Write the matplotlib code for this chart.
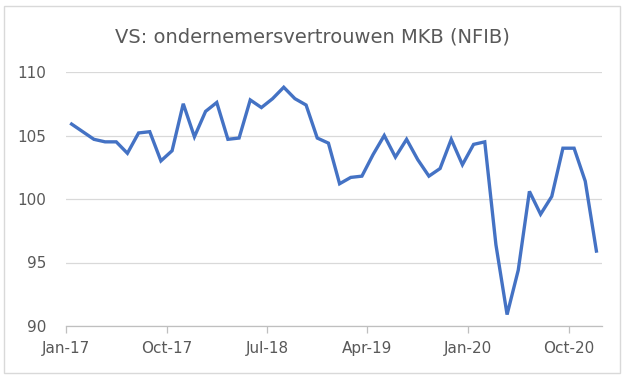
import matplotlib
matplotlib.use("Agg")
import matplotlib.pyplot as plt
from matplotlib.patches import Rectangle

# NFIB small business optimism index, monthly Jan-17 .. Dec-20
values = [
    105.9, 105.3, 104.7, 104.5, 104.5, 103.6, 105.2, 105.3, 103.0, 103.8, 107.5, 104.9,
    106.9, 107.6, 104.7, 104.8, 107.8, 107.2, 107.9, 108.8, 107.9, 107.4, 104.8, 104.4,
    101.2, 101.7, 101.8, 103.5, 105.0, 103.3, 104.7, 103.1, 101.8, 102.4, 104.7, 102.7,
    104.3, 104.5, 96.4, 90.9, 94.4, 100.6, 98.8, 100.2, 104.0, 104.0, 101.4, 95.9,
]
tick_labels = ["Jan-17", "Oct-17", "Jul-18", "Apr-19", "Jan-20", "Oct-20"]
y_ticks = [90, 95, 100, 105, 110]

text_color = "#595959"

fig = plt.figure(figsize=(6.25, 3.84), dpi=100)
ax = fig.add_axes([66 / 625, 1 - 326 / 384, 536 / 625, 254 / 384])

# chart-area border
fig.patches.append(Rectangle((4 / 625, 1 - 373 / 384), 616 / 625, 367 / 384,
                             transform=fig.transFigure, fill=False,
                             edgecolor="#D9D9D9", lw=1))

x = list(range(len(values)))
ax.plot(x, values, color="#4472C4", lw=2.4, solid_joinstyle="miter", zorder=3)

ax.set_xlim(-0.5, len(values) - 0.5)
ax.set_ylim(90, 110)
ax.set_yticks(y_ticks)
ax.set_xticks([-0.5 + 9 * i for i in range(len(tick_labels))])
ax.set_xticklabels(tick_labels)

ax.grid(axis="y", color="#D9D9D9", lw=0.9)
ax.set_axisbelow(True)
for side in ["top", "right", "left"]:
    ax.spines[side].set_visible(False)
ax.spines["bottom"].set_color("#BFBFBF")
ax.spines["bottom"].set_linewidth(0.9)
ax.tick_params(axis="x", length=5, width=0.9, color="#BFBFBF", pad=6,
               labelsize=11, labelcolor=text_color)
ax.tick_params(axis="y", length=0, pad=14, labelsize=11, labelcolor=text_color)

fig.text(0.5, 1 - 37 / 384, "VS: ondernemersvertrouwen MKB (NFIB)",
         ha="center", va="center", fontsize=14, color=text_color)

fig.savefig("out.png", dpi=100)
